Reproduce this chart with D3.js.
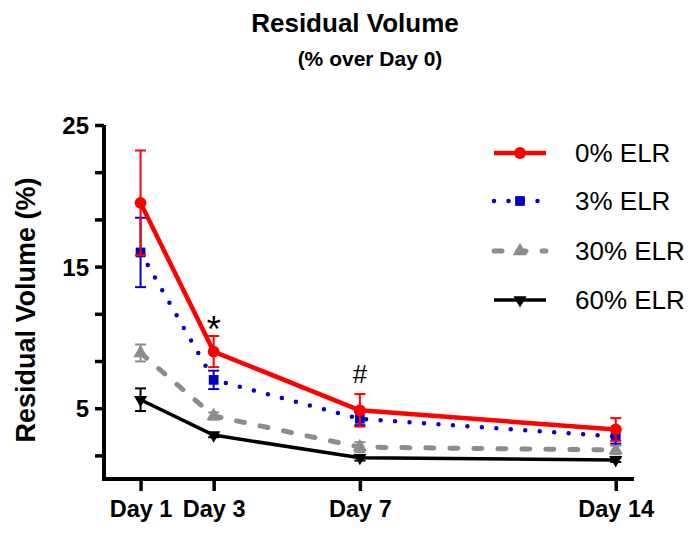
<!DOCTYPE html>
<html>
<head>
<meta charset="utf-8">
<script src="https://cdn.jsdelivr.net/npm/d3@7"></script>
<style>
  body { margin: 0; background: #fff; }
  text { font-family: Arial, "Liberation Sans", sans-serif; }
</style>
</head>
<body>
<div id="chart"></div>
<script>
// days on the x axis and their labels
const days = [1, 3, 7, 14];
const dayLabels = ["Day 1", "Day 3", "Day 7", "Day 14"];
const yTicks = [5, 15, 25];

// mean and error (SEM) per group
const elr0 = [19.5, 9.0, 4.85, 3.5];
const elr0Err = [3.7, 1.1, 1.15, 0.8];
const elr3 = [16.0, 7.0, 4.25, 3.0];
const elr3Err = [2.45, 0.65, 0.45, 0.5];
const elr30 = [8.9, 4.45, 2.25, 2.05];
const elr30Err = [0.6, 0.25, 0.35, 0.3];
const elr60 = [5.6, 3.1, 1.5, 1.35];
const elr60Err = [0.8, 0.15, 0.2, 0.15];

const series = [
  { name: "0% ELR", values: elr0, err: elr0Err, color: "#ff0000", width: 4.5, dash: null, symbol: d3.symbolCircle, size: 110, rot: 0 },
  { name: "3% ELR", values: elr3, err: elr3Err, color: "#0000c8", width: 4.5, dash: "0,14.5", symbol: d3.symbolSquare, size: 95, rot: 0 },
  { name: "30% ELR", values: elr30, err: elr30Err, color: "#8c8c8c", width: 5, dash: "8,16", symbol: d3.symbolTriangle, size: 90, rot: 0 },
  { name: "60% ELR", values: elr60, err: elr60Err, color: "#000000", width: 3.5, dash: null, symbol: d3.symbolTriangle, size: 75, rot: 180 }
];

const W = 689, H = 538;
const svg = d3.select("#chart").append("svg")
  .attr("width", W).attr("height", H);

const x = d3.scaleLinear().domain([0, 14.5]).range([104, 634]);
const y = d3.scaleLinear().domain([0, 25]).range([479, 125]);

// titles
svg.append("text").attr("x", 355).attr("y", 32)
  .attr("text-anchor", "middle").attr("font-size", 26).attr("font-weight", "bold")
  .text("Residual Volume");
svg.append("text").attr("x", 370).attr("y", 66)
  .attr("text-anchor", "middle").attr("font-size", 21).attr("font-weight", "bold")
  .text("(% over Day 0)");

// y axis: labelled ticks at 5, 15, 25 and minor ticks every 10/3
const minor = d3.range(0, 8).map(k => 25 - k * 10 / 3);
const yAxis = svg.append("g").attr("transform", `translate(${x(0)},0)`)
  .call(d3.axisLeft(y).tickValues(minor).tickSize(9).tickFormat(d => {
    const r = yTicks.find(t => Math.abs(t - d) < 0.01);
    return r === undefined ? "" : r;
  }));
yAxis.selectAll("text").attr("font-size", 24).attr("font-weight", "bold")
  .attr("fill", "#000").attr("x", -15).attr("dy", "0.36em")
  .style("font-family", "Arial, 'Liberation Sans', sans-serif");
yAxis.select(".domain").attr("stroke", "#000").attr("stroke-width", 4)
  .attr("d", `M0,${y(0)}V${y(25)}`);
yAxis.selectAll(".tick line").attr("stroke", "#000").attr("stroke-width", 3.5);

svg.append("text")
  .attr("transform", `translate(35,${(y(0) + y(25)) / 2 + 8}) rotate(-90)`)
  .attr("text-anchor", "middle").attr("font-size", 27).attr("font-weight", "bold")
  .text("Residual Volume (%)");

// x axis
const xAxis = svg.append("g").attr("transform", `translate(0,${y(0)})`)
  .call(d3.axisBottom(x).tickValues(days).tickSize(12).tickPadding(9)
    .tickFormat((d, i) => dayLabels[i]));
xAxis.select(".domain").attr("stroke", "#000").attr("stroke-width", 4)
  .attr("d", `M${x(0) - 2},0H${x(14.5)}`);
xAxis.selectAll(".tick line").attr("stroke", "#000").attr("stroke-width", 3.5);
xAxis.selectAll("text").attr("font-size", 23.5).attr("font-weight", "bold")
  .attr("fill", "#000")
  .style("font-family", "Arial, 'Liberation Sans', sans-serif");

const line = d3.line().x((d, i) => x(days[i])).y(d => y(d));

// draw from back to front so the red line sits on top
series.slice().reverse().forEach(s => {
  const g = svg.append("g");
  // error bars
  s.values.forEach((v, i) => {
    const cx = x(days[i]);
    const top = y(v + s.err[i]), bot = y(v - s.err[i]);
    g.append("line").attr("x1", cx).attr("x2", cx).attr("y1", top).attr("y2", bot)
      .attr("stroke", s.color).attr("stroke-width", 2);
    [top, bot].forEach(yy => g.append("line")
      .attr("x1", cx - 5.5).attr("x2", cx + 5.5).attr("y1", yy).attr("y2", yy)
      .attr("stroke", s.color).attr("stroke-width", 2));
  });
  g.append("path").attr("d", line(s.values))
    .attr("fill", "none").attr("stroke", s.color).attr("stroke-width", s.width)
    .attr("stroke-linecap", s.dash ? "round" : "butt")
    .attr("stroke-linejoin", "round")
    .attr("stroke-dasharray", s.dash);
  g.selectAll(".pt").data(s.values).join("path")
    .attr("transform", (d, i) => `translate(${x(days[i])},${y(d)}) rotate(${s.rot})`)
    .attr("d", d3.symbol(s.symbol, s.size))
    .attr("fill", s.color);
});

// significance marks
svg.append("text").attr("x", x(3)).attr("y", 342)
  .attr("text-anchor", "middle").attr("font-size", 36).text("*");
svg.append("text").attr("x", x(7)).attr("y", 383)
  .attr("text-anchor", "middle").attr("font-size", 26).text("#");

// legend
const legendY = [153, 201, 251, 300];
series.forEach((s, i) => {
  const g = svg.append("g").attr("transform", `translate(0,${legendY[i]})`);
  g.append("line").attr("x1", 494).attr("x2", 546).attr("y1", 0).attr("y2", 0)
    .attr("stroke", s.color).attr("stroke-width", s.width)
    .attr("stroke-linecap", s.dash ? "round" : "butt")
    .attr("stroke-dasharray", s.dash);
  g.append("path").attr("transform", `translate(520,0) rotate(${s.rot})`)
    .attr("d", d3.symbol(s.symbol, s.size)).attr("fill", s.color);
  g.append("text").attr("x", 575).attr("y", 9).attr("font-size", 26)
    .attr("fill", "#000").text(s.name);
});
</script>
</body>
</html>
